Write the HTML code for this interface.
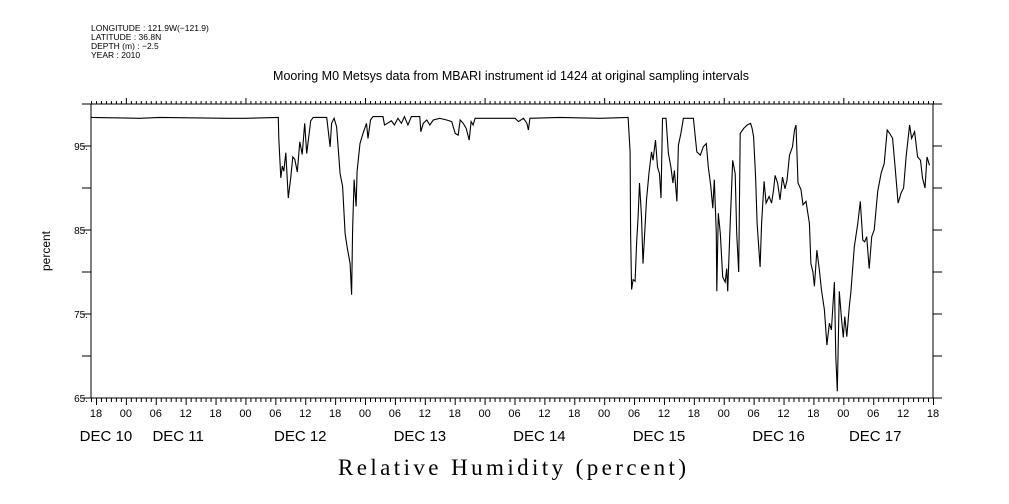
<!DOCTYPE html>
<html><head><meta charset="utf-8"><style>
body{margin:0;background:#fff}
svg{display:block}
text{font-family:"Liberation Sans",sans-serif;fill:#000}
</style></head><body>
<svg id="c" width="1009" height="504" xmlns="http://www.w3.org/2000/svg">
<g font-size="8.5">
<text x="91" y="31">LONGITUDE : 121.9W(−121.9)</text>
<text x="91" y="40">LATITUDE : 36.8N</text>
<text x="91" y="49">DEPTH (m) : −2.5</text>
<text x="91" y="58">YEAR : 2010</text>
</g>
<text x="511" y="80" font-size="12.5" text-anchor="middle">Mooring M0 Metsys data from MBARI instrument id 1424 at original sampling intervals</text>
<text transform="translate(50,251) rotate(-90)" font-size="12" text-anchor="middle">percent</text>
<text x="512" y="475" font-size="23" text-anchor="middle" textLength="348" font-family="Liberation Serif, serif" style="font-family:'Liberation Serif',serif">Relative Humidity (percent)</text>
<g id="axes"></g>
<path id="line" fill="none" stroke="#000" stroke-width="1.1"/>
</svg>
<script>
const hours=[17,26.8,30.8,44.5,47.9,54.6,54.7,55.1,55.4,55.7,56.1,56.6,57.1,57.5,57.9,58.4,58.9,59.4,59.9,60.3,61.1,61.6,64.3,65.0,65.3,65.8,66.3,67.0,67.5,68.0,68.4,69.0,69.3,69.5,69.8,70.2,70.4,71.0,71.6,72.3,72.6,73.1,73.6,75.6,75.9,76.5,77.3,77.9,78.6,79.3,79.9,80.6,81.3,83.0,83.2,83.7,84.4,85.0,85.7,87.0,88.4,89.4,90.1,90.7,91.1,91.7,92.3,92.9,93.3,93.7,94.1,102.1,102.8,103.8,104.5,104.8,105.1,111.1,119.2,124.8,125.2,125.3,125.5,125.8,126.2,126.5,126.8,127.1,127.5,127.8,128.1,128.5,129.0,129.5,129.8,130.3,130.7,131.1,131.4,131.7,132.4,132.9,133.4,133.8,134.1,134.6,134.9,135.4,135.9,137.9,138.6,139.3,139.9,140.5,140.9,141.4,141.8,142.1,142.5,142.6,142.9,143.3,143.8,144.3,144.6,144.8,145.3,145.8,146.3,146.6,147.0,147.3,148.0,148.7,149.4,149.7,150.0,150.4,150.7,151.3,151.6,152.1,152.5,153.1,153.6,154.0,154.3,154.8,155.3,155.8,156.3,156.7,157.2,157.8,158.2,158.5,158.9,159.5,159.9,160.5,161.2,161.5,161.9,162.2,162.7,163.2,163.6,164.2,164.7,165.2,165.6,166.2,166.5,166.8,167.2,167.6,168.0,168.3,168.7,169.2,169.5,170.2,170.9,171.4,171.9,172.3,172.7,173.2,173.7,174.2,174.9,175.6,176.2,176.8,177.3,177.9,178.4,179.0,179.6,180.1,180.6,181.3,181.7,182.3,182.9,183.5,183.9,184.4,184.8,185.3];
const humidity=[98.4,98.3,98.4,98.3,98.3,98.4,95.9,91.2,92.6,92.0,94.2,88.8,91.3,93.7,93.4,91.9,95.5,94.0,97.7,94.1,98.0,98.4,98.4,94.9,97.7,98.3,97.3,91.7,90.2,84.6,83.0,81.0,77.3,85.0,91.0,87.8,92.0,95.3,96.5,97.7,95.9,98.1,98.5,98.5,97.5,97.7,98.0,97.5,98.3,97.7,98.5,97.5,98.5,98.5,96.7,97.7,98.1,97.5,98.1,98.3,98.1,97.9,96.5,96.3,98.1,97.7,97.1,95.7,97.9,97.5,98.3,98.3,97.9,98.3,97.7,96.9,98.3,98.4,98.3,98.4,94.3,84.6,77.9,79.1,78.9,83.4,86.6,90.6,86.6,81.0,84.2,88.6,91.8,94.3,93.3,95.7,92.5,91.7,88.8,98.3,98.3,94.1,92.5,90.6,92.1,88.4,95.1,96.5,98.3,98.3,94.3,93.9,94.9,95.3,92.5,90.2,87.6,91.0,84.6,77.7,87.0,84.6,79.4,78.8,80.4,77.7,85.8,93.3,91.7,84.6,80.0,96.5,97.1,97.5,97.7,97.1,96.1,91.3,85.8,80.6,85.8,90.8,88.2,89.0,88.2,89.8,91.5,90.6,88.6,91.3,89.9,90.9,93.9,94.9,96.9,97.5,90.6,89.8,88.0,88.4,85.8,81.0,80.0,78.3,82.6,80.2,77.9,75.5,71.3,73.9,73.1,78.8,69.9,65.8,77.7,74.7,72.2,74.7,72.3,75.9,77.5,83.0,85.8,88.4,83.8,83.6,84.2,80.4,84.2,85.0,89.6,91.8,92.9,96.9,96.5,95.9,92.5,88.2,89.4,90.0,93.7,97.5,95.9,96.7,93.7,93.3,91.2,90.0,93.7,92.7];
const yTickValues=[65,70,75,80,85,90,95,100];
const yLabelValues=[65,75,85,95];
const xTickHours=[18,24,30,36,42,48,54,60,66,72,78,84,90,96,102,108,114,120,126,132,138,144,150,156,162,168,174,180,186];
const dayLabels=["DEC 10","DEC 11","DEC 12","DEC 13","DEC 14","DEC 15","DEC 16","DEC 17"];
const dayLabelHours=[20.0,34.5,59,83,107,131,155,174.4];
const H0=17,H1=186,V0=65,V1=100,L=91,R=933,T=104,B=398;
const sx=h=>L+(h-H0)*(R-L)/(H1-H0);
const sy=v=>B-(v-V0)*(B-T)/(V1-V0);
const NS="http://www.w3.org/2000/svg";
const ax=document.getElementById('axes');
function mk(tag,attrs,parent){const e=document.createElementNS(NS,tag);for(const k in attrs)e.setAttribute(k,attrs[k]);(parent||ax).appendChild(e);return e;}
const box=mk('rect',{x:L,y:T,width:R-L,height:B-T,fill:'none',stroke:'#000','stroke-width':1});


let d='';
for(let h=H0;h<=H1;h++){const x=sx(h)+0.5;const major=(h%24===0);
 d+=`M${x},${T}V${T-(major?6:3)}`;
 d+=`M${x},${B}V${B+(h%6===0?7:4)}`;}
for(const v of yTickValues){const y=sy(v);d+=`M${L},${y}H${L-9}M${R},${y}H${R+9}`;}
const ticks=mk('path',{d:d,stroke:'#000','stroke-width':1,fill:'none'});


for(const v of yLabelValues){const t=mk('text',{x:L-3,y:sy(v)+4,'font-size':10,'text-anchor':'end'});t.textContent=v+'.';
 
 }
for(const h of xTickHours){const t=mk('text',{x:sx(h),y:417,'font-size':11,'text-anchor':'middle'});t.textContent=String(h%24).padStart(2,'0');
 
 }
dayLabels.forEach((s,i)=>{const t=mk('text',{x:sx(dayLabelHours[i]),y:441,'font-size':15,'text-anchor':'middle'});t.textContent=s;
 
 });
let p='';hours.forEach((h,i)=>{p+=(i?'L':'M')+sx(h).toFixed(1)+','+sy(humidity[i]).toFixed(1);});
document.getElementById('line').setAttribute('d',p);
</script>
</body></html>
